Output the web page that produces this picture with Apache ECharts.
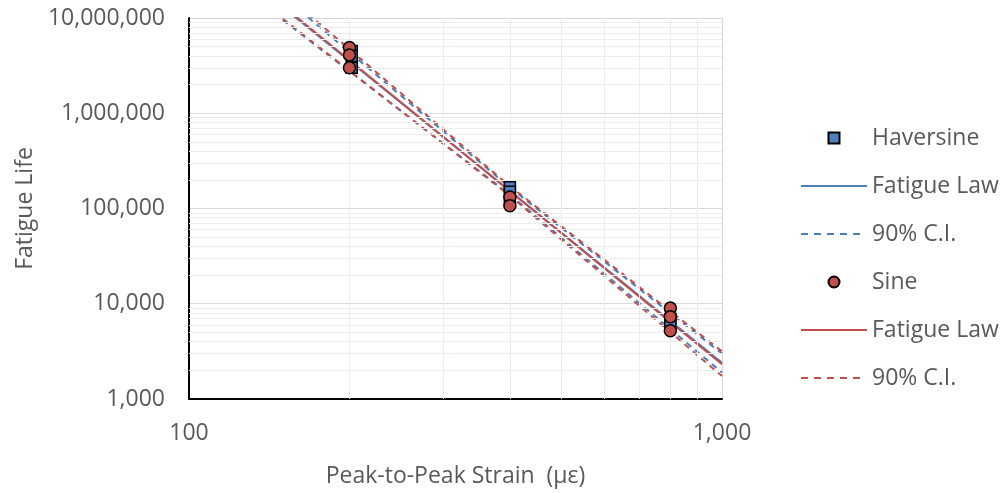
<!DOCTYPE html>
<html>
<head>
<meta charset="utf-8">
<script src="https://cdn.jsdelivr.net/npm/echarts@6/dist/echarts.min.js"></script>
<style>
  html, body { margin: 0; padding: 0; background: #fff; }
  #chart { width: 1003px; height: 493px; }
</style>
</head>
<body>
<div id="chart"></div>
<script>
// measured points
const haversineStrain = [202, 202, 202, 400, 400, 400, 800, 800];
const haversineLife = [4500000, 4000000, 3000000, 167000, 150000, 120000, 6900, 6200];
const sineStrain = [200, 200, 200, 400, 400, 800, 800, 800];
const sineLife = [4900000, 4100000, 3000000, 132000, 107000, 9000, 7300, 5200];

// fitted fatigue laws (end points)
const lawStrain = [150, 1000];
const haversineLaw = [13000000, 2400];
const sineLaw = [13400000, 2320];

// 90% confidence bands
const ciStrain = [150, 400, 1000];
const haversineCIUpper = [17000000, 166000, 3000];
const haversineCILower = [9500000, 140000, 1900];
const sineCIUpper = [18600000, 171000, 3160];
const sineCILower = [9800000, 136000, 1740];

// minor grid
const minorSteps = [2, 3, 4, 5, 6, 7, 8, 9];
const xDecades = [100];
const yDecades = [1000, 10000, 100000, 1000000];

const blue = '#4A7EBB';
const red = '#C0504D';
const txt = '#595959';
const font = 'Open Sans';
const fs = 23;

// legend icons drawn as paths so they keep their shape
const solidIcon = 'path://M0,0H66V2H0Z';
const dashIcon = 'path://M0,0H7V2H0Z M13,0H20V2H13Z M26,0H33V2H26Z M39,0H46V2H39Z M52,0H59V2H52Z M59,0H66V0H59Z';
const squareIcon = 'path://M0,0H10V10H0Z';

const pairs = (xs, ys) => xs.map((x, i) => [x, ys[i]]);

const minorLines = [];
xDecades.forEach(d => minorSteps.forEach(s => minorLines.push({ xAxis: d * s })));
yDecades.forEach(d => minorSteps.forEach(s => minorLines.push({ yAxis: d * s })));

const fmt = v => Number(v).toLocaleString('en-US');

function fitLine(name, xs, ys, color, dashed) {
    return {
        type: 'line',
        name: name,
        data: pairs(xs, ys),
        symbol: 'none',
        z: 3,
        itemStyle: { color: color },
        lineStyle: { color: color, width: 2, type: dashed ? [6, 5] : 'solid' }
    };
}

const chart = echarts.init(document.getElementById('chart'));
chart.setOption({
    animation: false,
    textStyle: { fontFamily: font },
    grid: { left: 189, right: 281, top: 18, bottom: 90 },
    legend: {
        orient: 'vertical',
        left: 796,
        top: 119,
        itemWidth: 66,
        itemHeight: 11,
        itemGap: 20,
        selectedMode: false,
        textStyle: { color: txt, fontSize: fs, lineHeight: 28, fontFamily: font },
        data: [
            { name: 'Haversine', icon: squareIcon },
            { name: 'Fatigue Law', icon: solidIcon },
            { name: '90% C.I.', icon: dashIcon },
            { name: 'Sine', icon: 'circle' },
            { name: 'Fatigue Law ', icon: solidIcon },
            { name: '90% C.I. ', icon: dashIcon }
        ]
    },
    xAxis: {
        type: 'log',
        logBase: 10,
        min: 100,
        max: 1000,
        name: 'Peak-to-Peak Strain  (\u03bc\u03b5)',
        nameLocation: 'middle',
        nameGap: 66,
        nameTextStyle: { color: txt, fontSize: fs, fontFamily: font },
        axisLine: { lineStyle: { color: '#000', width: 2 } },
        axisTick: { show: false },
        axisLabel: { color: txt, fontSize: fs, margin: 23, formatter: fmt },
        splitLine: { show: true, lineStyle: { color: '#d9d9d9', width: 1 } }
    },
    yAxis: {
        type: 'log',
        logBase: 10,
        min: 1000,
        max: 10000000,
        name: 'Fatigue Life',
        nameLocation: 'middle',
        nameGap: 145,
        nameTextStyle: { color: txt, fontSize: fs, fontFamily: font },
        axisLine: { lineStyle: { color: '#000', width: 2 } },
        axisTick: { show: false },
        axisLabel: { color: txt, fontSize: fs, margin: 24, formatter: fmt },
        splitLine: { show: true, lineStyle: { color: '#d9d9d9', width: 1 } }
    },
    series: [
        {
            type: 'line',
            name: 'grid',
            data: [],
            silent: true,
            z: 1,
            markLine: {
                silent: true,
                symbol: 'none',
                label: { show: false },
                lineStyle: { color: '#ececec', width: 1, type: 'solid' },
                data: minorLines
            }
        },
        {
            type: 'scatter',
            name: 'Haversine',
            data: pairs(haversineStrain, haversineLife),
            symbol: 'rect',
            symbolSize: 11,
            z: 10,
            itemStyle: { color: '#4F81BD', borderColor: '#000', borderWidth: 1.5, opacity: 1 }
        },
        fitLine('Fatigue Law', lawStrain, haversineLaw, blue, false),
        fitLine('90% C.I.', ciStrain, haversineCIUpper, blue, true),
        fitLine('90% C.I.', ciStrain, haversineCILower, blue, true),
        {
            type: 'scatter',
            name: 'Sine',
            data: pairs(sineStrain, sineLife),
            symbol: 'circle',
            symbolSize: 12,
            z: 11,
            itemStyle: { color: red, borderColor: '#000', borderWidth: 1.5, opacity: 1 }
        },
        fitLine('Fatigue Law ', lawStrain, sineLaw, red, false),
        fitLine('90% C.I. ', ciStrain, sineCIUpper, red, true),
        fitLine('90% C.I. ', ciStrain, sineCILower, red, true)
    ]
});
</script>
</body>
</html>
